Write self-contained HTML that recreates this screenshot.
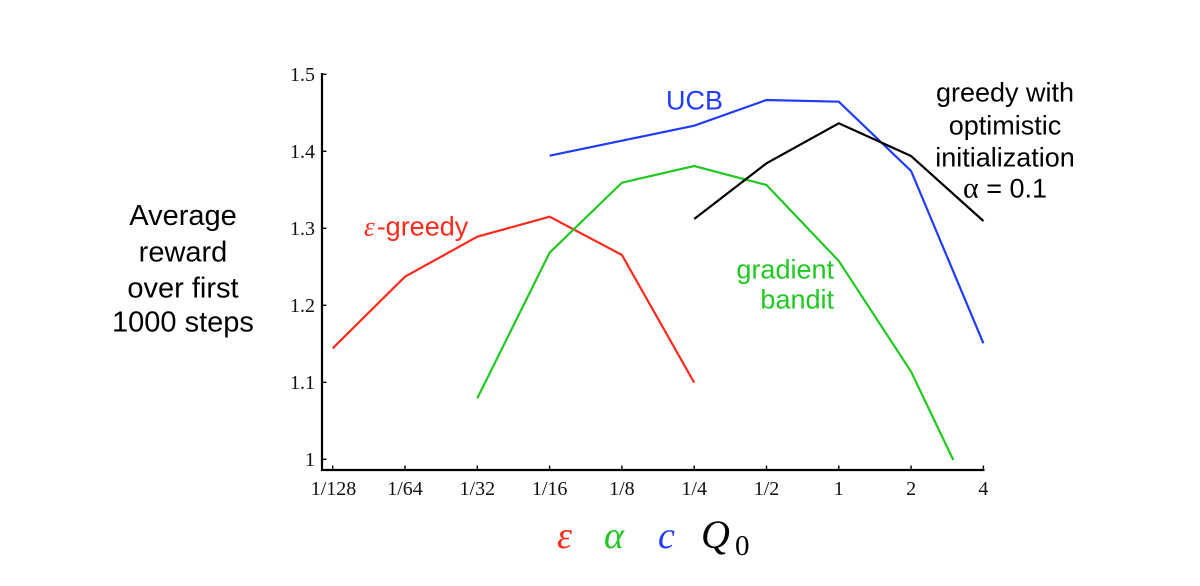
<!DOCTYPE html>
<html>
<head>
<meta charset="utf-8">
<style>
  html, body { margin: 0; padding: 0; background: #ffffff; }
  body { width: 1200px; height: 586px; overflow: hidden; }
  svg { display: block; }
  .tick { font-family: "Liberation Serif", serif; font-size: 20px; fill: #111; }
  .sans { font-family: "Liberation Sans", sans-serif; }
  .serif { font-family: "Liberation Serif", serif; }
</style>
</head>
<body>
<svg width="1200" height="586" viewBox="0 0 1200 586" xmlns="http://www.w3.org/2000/svg">
  <rect width="1200" height="586" fill="#ffffff"/>

  <!-- axes -->
  <line x1="322" y1="73" x2="322" y2="471" stroke="#000" stroke-width="2.2"/>
  <line x1="321" y1="470" x2="984.5" y2="470" stroke="#000" stroke-width="2.2"/>

  <!-- y ticks -->
  <g stroke="#000" stroke-width="1.4">
    <line x1="322" y1="74.3" x2="326.5" y2="74.3"/>
    <line x1="322" y1="151.3" x2="326.5" y2="151.3"/>
    <line x1="322" y1="228.3" x2="326.5" y2="228.3"/>
    <line x1="322" y1="305.3" x2="326.5" y2="305.3"/>
    <line x1="322" y1="382.3" x2="326.5" y2="382.3"/>
    <line x1="322" y1="459.3" x2="326.5" y2="459.3"/>
  </g>
  <g class="tick" text-anchor="end">
    <text x="315" y="81">1.5</text>
    <text x="315" y="158">1.4</text>
    <text x="315" y="235">1.3</text>
    <text x="315" y="312">1.2</text>
    <text x="315" y="389">1.1</text>
    <text x="315" y="466">1</text>
  </g>

  <!-- x ticks -->
  <g stroke="#000" stroke-width="1.4">
    <line x1="332.7" y1="470" x2="332.7" y2="465.5"/>
    <line x1="405" y1="470" x2="405" y2="465.5"/>
    <line x1="477.3" y1="470" x2="477.3" y2="465.5"/>
    <line x1="549.6" y1="470" x2="549.6" y2="465.5"/>
    <line x1="621.9" y1="470" x2="621.9" y2="465.5"/>
    <line x1="694.2" y1="470" x2="694.2" y2="465.5"/>
    <line x1="766.5" y1="470" x2="766.5" y2="465.5"/>
    <line x1="838.8" y1="470" x2="838.8" y2="465.5"/>
    <line x1="911.1" y1="470" x2="911.1" y2="465.5"/>
    <line x1="983.4" y1="470" x2="983.4" y2="465.5"/>
  </g>
  <g class="tick" text-anchor="middle">
    <text x="333.5" y="495">1/128</text>
    <text x="405" y="495">1/64</text>
    <text x="477.3" y="495">1/32</text>
    <text x="549.6" y="495">1/16</text>
    <text x="621.9" y="495">1/8</text>
    <text x="694.2" y="495">1/4</text>
    <text x="766.5" y="495">1/2</text>
    <text x="838.8" y="495">1</text>
    <text x="911.1" y="495">2</text>
    <text x="983.4" y="495">4</text>
  </g>

  <!-- series -->
  <g fill="none" stroke-width="2.2" stroke-linejoin="miter">
    <polyline stroke="#ff2b1c" points="332.7,348.3 405,276.7 477.3,236.7 549.6,216.7 621.9,255 694.2,382.7"/>
    <polyline stroke="#22c822" points="477.3,398.3 549.6,252.7 621.9,182.7 694.2,166 766.5,185 838.8,261 911.1,371.7 953.3,460"/>
    <polyline stroke="#1f3cff" points="549.6,155.7 621.9,140.7 694.2,125.7 766.5,100 838.8,101.7 911.1,171 983.4,343.3"/>
    <polyline stroke="#000000" points="694.2,219 766.5,163.3 838.8,123.3 911.1,156 983.4,221"/>
  </g>

  <!-- series labels -->
  <text class="sans" x="666" y="109.3" font-size="27" fill="#1f3cff">UCB</text>

  <text class="serif" x="364" y="235.7" font-size="27" font-style="italic" fill="#ff2b1c">ε</text>
  <text class="sans" x="376.7" y="235.7" font-size="27" fill="#ff2b1c">-greedy</text>

  <g class="sans" font-size="27" fill="#22c822" text-anchor="end">
    <text x="834" y="278.3">gradient</text>
    <text x="834" y="308.3">bandit</text>
  </g>

  <g class="sans" font-size="27" fill="#000" text-anchor="middle">
    <text x="1005" y="101.7">greedy with</text>
    <text x="1005" y="134.3">optimistic</text>
    <text x="1005" y="166.7">initialization</text>
    <text x="1005" y="197.7"><tspan class="serif" font-size="30">α</tspan> = 0.1</text>
  </g>

  <!-- y axis title -->
  <g class="sans" font-size="29" fill="#000" text-anchor="middle">
    <text x="183" y="225">Average</text>
    <text x="183" y="261.7">reward</text>
    <text x="183" y="297.3">over first</text>
    <text x="183" y="331.7">1000 steps</text>
  </g>

  <!-- x axis title -->
  <g class="serif" font-style="italic" font-size="38">
    <text x="557" y="548" fill="#ff2b1c">ε</text>
    <text x="604" y="548" fill="#22c822">α</text>
    <text x="658" y="548" fill="#1f3cff">c</text>
    <text x="701" y="548" fill="#000" font-size="40">Q</text>
  </g>
  <text class="serif" x="735" y="555" font-size="29" fill="#000">0</text>
</svg>
</body>
</html>
